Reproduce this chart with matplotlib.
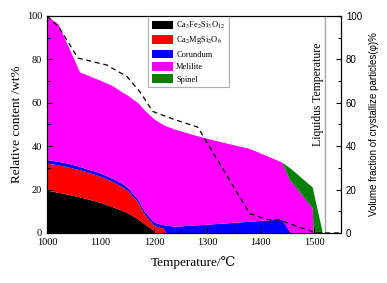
import matplotlib
matplotlib.use("Agg")
import matplotlib.pyplot as plt
from matplotlib.ticker import MultipleLocator

# ── data ─────────────────────────────────────────────────────────────────────
temp = [1000, 1022, 1040, 1062, 1080, 1100, 1121, 1140, 1152, 1171, 1183, 1199,
        1203, 1220, 1222, 1240, 1286, 1340, 1379, 1440, 1454, 1458, 1497, 1499,
        1516, 1550]

andradite = [19.5, 18.5, 17.6, 16.4, 15.3, 13.9, 12.1, 10.3, 9.0, 6.2, 4.0, 1.2,
             0, 0, 0, 0, 0, 0, 0, 0, 0, 0, 0, 0, 0, 0]
diopside = [12.5, 12.7, 12.6, 12.6, 12.3, 12.1, 11.7, 11.0, 10.3, 7.8, 4.5, 2.6,
            3.0, 1.9, 0, 0, 0, 0, 0, 0, 0, 0, 0, 0, 0, 0]
corundum = [1.6, 1.6, 1.7, 1.4, 1.4, 1.5, 1.4, 1.5, 1.3, 1.2, 1.3, 1.4,
            1.6, 1.6, 3.4, 2.9, 3.6, 4.5, 5.2, 6.3, 0.5, 0, 0, 0, 0, 0]
melilite = [66.4, 63.2, 54.2, 43.6, 43.2, 42.7, 42.8, 42.2, 42.6, 44.6, 46.7, 47.6,
            47.4, 46.0, 45.9, 44.7, 40.7, 36.5, 33.6, 26.2, 24.0, 23.3, 11.5, 0,
            0, 0]
spinel = [0, 0, 0, 0, 0, 0, 0, 0, 0, 0, 0, 0,
          0, 0, 0, 0, 0, 0, 0, 0, 5.5, 5.9, 9.5, 18.8, 0, 0]

phase_names = ["Ca$_3$Fe$_2$Si$_3$O$_{12}$", "Ca$_2$MgSi$_2$O$_6$",
               "Corundum", "Melilite", "Spinel"]
phase_colors = ["#000000", "#ff0000", "#0000ff", "#ff00ff", "#008000"]

# volume fraction of crystallized particles (right axis)
temp_phi = [1000, 1022, 1058, 1112, 1150, 1174, 1198, 1236, 1282, 1345, 1379,
            1411, 1435, 1479, 1505, 1550]
phi = [100, 95, 80.6, 77.4, 72, 65, 56, 52.5, 48.8, 23, 9, 6.2, 6, 2.1, 0, 0]

liquidus_t = 1521

SERIF = ["Liberation Serif", "DejaVu Serif"]
SANS = ["Liberation Sans", "DejaVu Sans"]
plt.rcParams["font.family"] = SERIF
plt.rcParams["mathtext.fontset"] = "stix"

# ── figure ───────────────────────────────────────────────────────────────────
fig = plt.figure(figsize=(3.87, 2.83), dpi=100)
ax = fig.add_axes([0.1214, 0.1767, 0.7597, 0.7668])

ax.stackplot(temp, andradite, diopside, corundum, melilite, spinel,
             colors=phase_colors, labels=phase_names, linewidth=0)
ax.axvline(liquidus_t, color="#a8a8a8", lw=1.0)
ax.text(1507, 64, "Liquidus Temperature", rotation=90, ha="center",
        va="center", fontsize=8.5)

ax.set_xlim(1000, 1550)
ax.set_ylim(0, 100)
ax.xaxis.set_major_locator(MultipleLocator(100))
ax.xaxis.set_minor_locator(MultipleLocator(50))
ax.yaxis.set_major_locator(MultipleLocator(20))
ax.yaxis.set_minor_locator(MultipleLocator(10))
ax.tick_params(which="both", direction="in", labelsize=7.5, width=0.8)
ax.tick_params(which="major", length=3.5)
ax.tick_params(which="minor", length=2)
ax.set_xlabel("Temperature/℃", fontsize=9.5, labelpad=7)
ax.set_ylabel("Relative content /wt%", fontsize=9.5, labelpad=3)

leg = ax.legend(loc="upper left", bbox_to_anchor=(0.343, 1.0), borderaxespad=0,
                fontsize=6, handlelength=2.6, handleheight=1.2,
                handletextpad=0.35, labelspacing=0.4, borderpad=0.45,
                fancybox=False, framealpha=1)
leg.get_frame().set_edgecolor("#b0b0b0")
leg.get_frame().set_linewidth(0.8)

ax2 = ax.twinx()
ax2.plot(temp_phi, phi, color="black", lw=0.9, linestyle=(0, (4, 3)))
ax2.set_ylim(0, 100)
ax2.yaxis.set_major_locator(MultipleLocator(20))
ax2.yaxis.set_minor_locator(MultipleLocator(10))
ax2.tick_params(which="both", direction="in", labelsize=7, width=0.8)
ax2.tick_params(which="major", length=3.5)
ax2.tick_params(which="minor", length=2)
for lab in ax2.get_yticklabels():
    lab.set_family(SANS)
ax2.set_ylabel("Volume fraction of crystallize particles(φ)%", fontsize=7,
               family=SANS, labelpad=5)

fig.savefig("out.png", dpi=100)
